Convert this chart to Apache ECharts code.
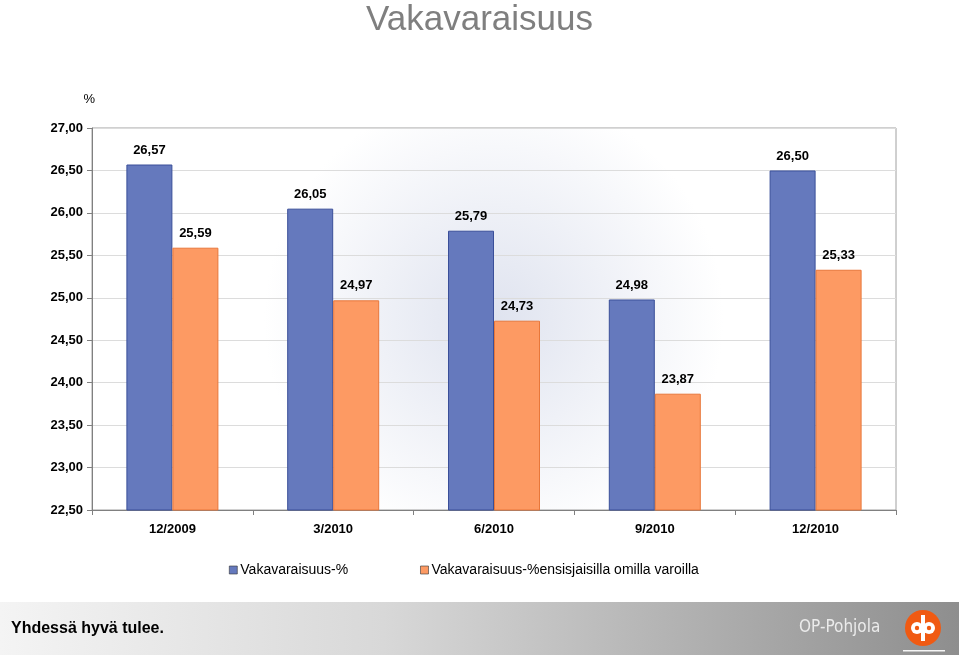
<!DOCTYPE html>
<html><head><meta charset="utf-8">
<script src="https://cdn.jsdelivr.net/npm/echarts@6/dist/echarts.min.js"></script>
<style>html,body{margin:0;padding:0;background:#fff}#c{width:959px;height:656px}</style>
</head><body><div id="c"></div>
<script>
const categories = ['12/2009','3/2010','6/2010','9/2010','12/2010'];
const seriesNames = ['Vakavaraisuus-%','Vakavaraisuus-%ensisjaisilla omilla varoilla'];
const totalRatio = [26.57, 26.05, 25.79, 24.98, 26.50];
const tier1Ratio = [25.59, 24.97, 24.73, 23.87, 25.33];
const yTicks = {min: 22.5, max: 27, interval: 0.5};

const chart = echarts.init(document.getElementById('c'), null, {renderer: 'canvas'});
const fmt = v => v.toFixed(2).replace('.', ',');
const lbl = {show: true, position: 'top', distance: 8, fontFamily: 'Liberation Sans', fontWeight: 'bold', fontSize: 13, color: '#000', formatter: p => fmt(p.value)};
chart.setOption({
  animation: false,
  title: {text: 'Vakavaraisuus', left: 'center', top: -2, textStyle: {fontFamily: 'Liberation Sans', fontWeight: 'normal', fontSize: 35, color: '#7f7f7f'}},
  grid: {left: 92, right: 63, top: 128, bottom: 146, show: true, borderColor: '#a0a0a0', borderWidth: 1,
    backgroundColor: new echarts.graphic.RadialGradient(0.5, 0.5, 0.6, [{offset: 0, color: '#dfe3ef'}, {offset: 1, color: '#ffffff'}])},
  legend: {left: 224, top: 558, itemWidth: 8, itemHeight: 8, itemGap: 72, icon: 'rect',
    textStyle: {fontFamily: 'Liberation Sans', fontSize: 14, color: '#000', padding: [0,0,0,-2]},
    data: seriesNames.map(n => ({name: n, itemStyle: {borderColor: '#333', borderWidth: 0.6}}))},
  xAxis: {type: 'category', data: categories,
    axisLine: {lineStyle: {color: '#808080'}},
    axisTick: {show: true, length: 5, lineStyle: {color: '#808080'}},
    axisLabel: {fontFamily: 'Liberation Sans', fontWeight: 'bold', fontSize: 13, color: '#000', margin: 13}},
  yAxis: {type: 'value', min: yTicks.min, max: yTicks.max, interval: yTicks.interval,
    name: '%', nameLocation: 'end', nameGap: 22, nameTextStyle: {fontFamily: 'Liberation Sans', fontSize: 13, color: '#000', align: 'right', padding: [0, -3, 0, 0]},
    axisLine: {show: true, lineStyle: {color: '#808080'}},
    axisTick: {show: true, length: 5, lineStyle: {color: '#808080'}},
    splitLine: {lineStyle: {color: '#dcdcdc'}},
    axisLabel: {fontFamily: 'Liberation Sans', fontWeight: 'bold', fontSize: 13, color: '#000', margin: 9, formatter: v => fmt(v)}},
  series: [
    {name: seriesNames[0], type: 'bar', data: totalRatio, barWidth: 46, barGap: '0%',
      itemStyle: {color: '#6579bd', borderColor: '#3a4f99', borderWidth: 1}, label: lbl},
    {name: seriesNames[1], type: 'bar', data: tier1Ratio, barWidth: 46,
      itemStyle: {color: '#fd9a63', borderColor: '#e8773a', borderWidth: 1}, label: lbl}
  ],
  graphic: [
    {type: 'rect', left: 0, top: 602, shape: {width: 959, height: 53},
      style: {fill: new echarts.graphic.LinearGradient(0, 0, 1, 0, [{offset: 0, color: '#f4f4f4'}, {offset: 0.4, color: '#d8d8d8'}, {offset: 1, color: '#8e8e8e'}])}},
    {type: 'text', left: 11, top: 621, style: {text: 'Yhdessä hyvä tulee.', fontFamily: 'Liberation Sans', fontSize: 16, fontWeight: 'bold', fill: '#000'}},
    {type: 'text', left: 799, top: 619, style: {text: 'OP-Pohjola', fontFamily: 'DejaVu Sans Condensed', fontSize: 17, fill: '#ebebeb'}},
    {type: 'circle', shape: {cx: 923, cy: 628, r: 18}, style: {fill: '#f05a12'}},
    {type: 'circle', shape: {cx: 917, cy: 628, r: 6}, style: {fill: '#fff'}},
    {type: 'circle', shape: {cx: 929, cy: 628, r: 6}, style: {fill: '#fff'}},
    {type: 'rect', shape: {x: 921, y: 615, width: 4, height: 26}, style: {fill: '#fff'}},
    {type: 'circle', shape: {cx: 917, cy: 628, r: 2.2}, style: {fill: '#f05a12'}},
    {type: 'circle', shape: {cx: 929, cy: 628, r: 2.2}, style: {fill: '#f05a12'}},
    {type: 'rect', shape: {x: 903, y: 650, width: 42, height: 1.5}, style: {fill: '#f5f5f5'}}
  ]
});
</script></body></html>
